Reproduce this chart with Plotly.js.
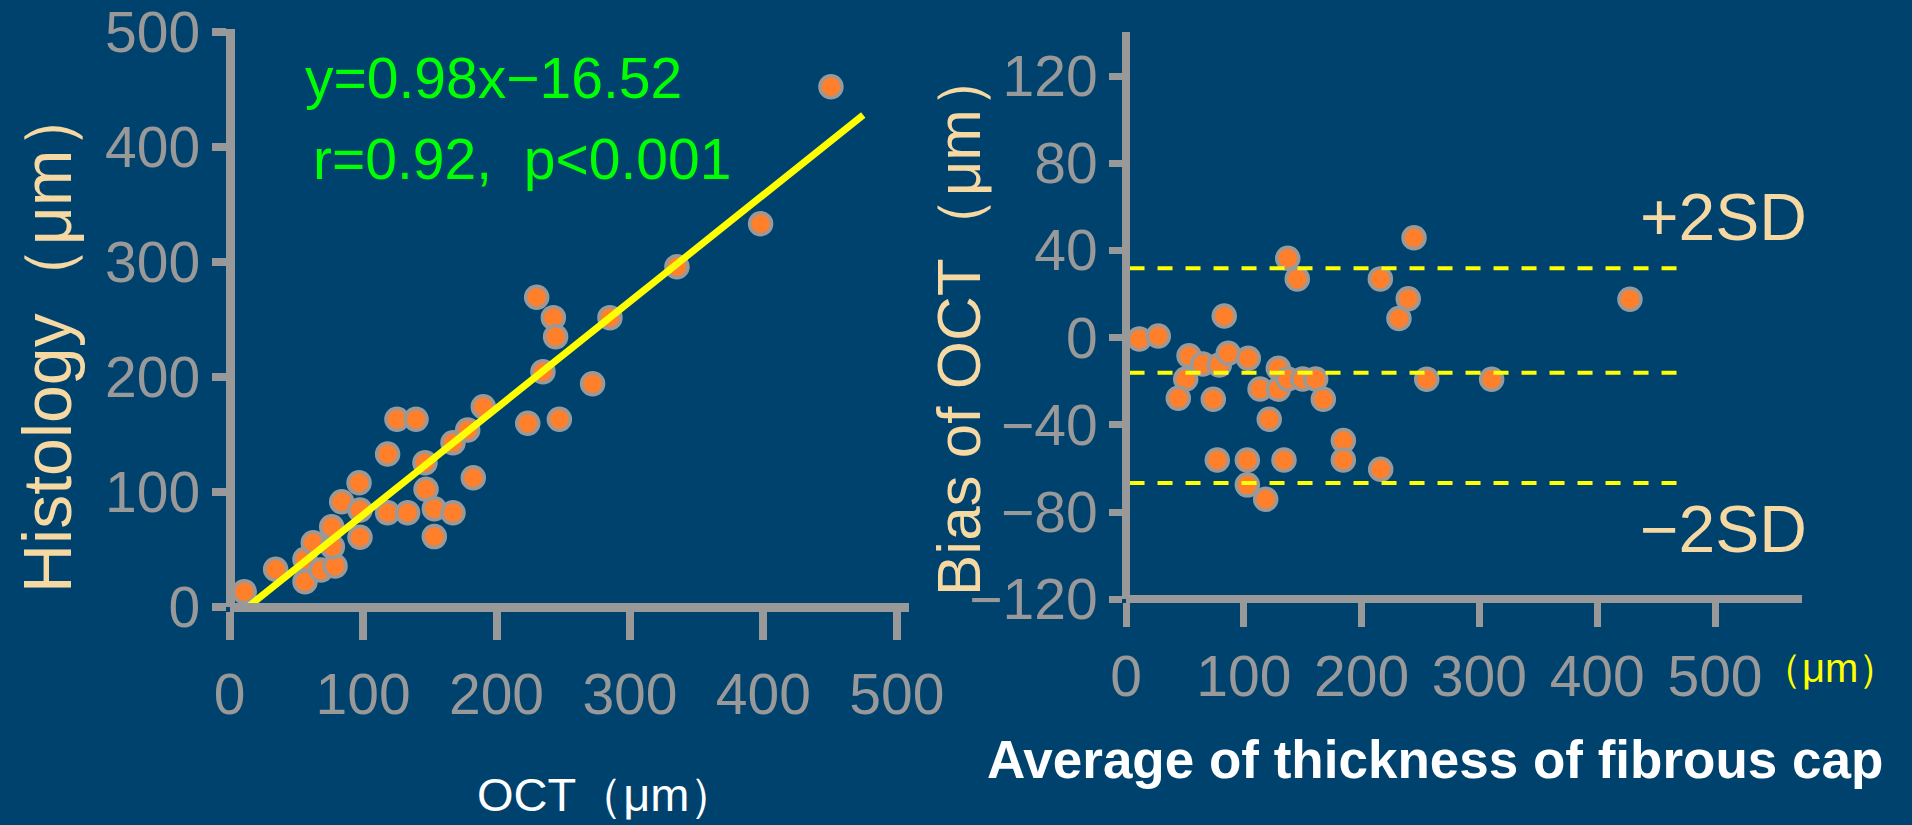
<!DOCTYPE html>
<html>
<head>
<meta charset="utf-8">
<script src="https://cdn.plot.ly/plotly-3.0.1.min.js"></script>
<style>
  html, body { margin: 0; padding: 0; background: #00426e; }
  #chart { width: 1912px; height: 825px; }
</style>
</head>
<body>
<div id="chart"></div>
<script>
// ---- Data ----
// Left panel: OCT vs Histology fibrous-cap thickness (µm)
const octValues = [11, 34.5, 56.5, 56.5, 62.7, 68.5, 79, 77, 76.5, 84, 97, 97.7, 97.7, 118.4, 125.4, 139.7, 118.4, 133.4, 146.4, 147.2, 153.4, 153.4, 167.4, 167.4, 178.4, 190.1, 182.6, 223.4, 247.1, 234.8, 272, 230.1, 242.6, 244.3, 285, 335.2, 397.9, 450.6];
const histologyValues = [13.3, 32.8, 22, 41.5, 55.9, 32.2, 35.7, 52.4, 69.8, 91.6, 108.1, 84.3, 60.6, 133, 163.2, 163.2, 82, 82, 125.5, 102.3, 85.5, 61.2, 82, 142.9, 153.9, 174.2, 112.4, 159.7, 163.2, 204.6, 194.2, 269.3, 251.6, 235, 251.6, 295.9, 333.3, 452.4];
// Regression line end points as drawn
const fitLineX = [14, 474.8];
const fitLineY = [0.3, 427.8];

// Right panel: Bland-Altman (average vs bias of OCT)
const averageValues = [11.3, 27.4, 53.5, 50.7, 44.4, 65.1, 79.2, 86.8, 83.4, 74.1, 103.8, 129.3, 113.8, 129.3, 137.3, 150, 161, 167.5, 121.6, 137.3, 145.4, 215.9, 244.5, 239.6, 231.7, 255.3, 310.4, 427.8, 77.5, 103, 134.1, 184.5, 184.5, 216.2, 103, 118.6];
const biasValues = [-0.6, 0.8, -8.3, -18.9, -27.8, -12, -12.5, -7.1, 10, -28.2, -9.4, -14, -23.5, -23.6, -18.9, -18.9, -18.9, -28.2, -37.4, 36.5, 27, 27, 45.9, 17.9, 8.8, -19, -19, 17.7, -56.1, -56.1, -56.1, -47.2, -56.1, -60.3, -67.5, -74.1];
// Limits of agreement: +2SD, mean, -2SD
const sdLevels = [31.9, -16.1, -66.7];
const sdLineX = [3, 469];

// Tick values
const leftXTicks = [0, 100, 200, 300, 400, 500];
const leftYTicks = [0, 100, 200, 300, 400, 500];
const rightXTicks = [0, 100, 200, 300, 400, 500];
const rightYTicks = [-120, -80, -40, 0, 40, 80, 120];

// Text
const equationText = 'y=0.98x\u221216.52';
const statsText = 'r=0.92,\u00a0\u00a0p&lt;0.001';

// ---- Styling ----
const BG = '#00426e';
const GRAY = '#999999';
const WHEAT = '#f5d8a2';
const ORANGE = '#ff7f2a';
const FONT = 'Liberation Sans, Arial, sans-serif';
const W = 1912, H = 825;
const px = v => v / W;
const py = v => 1 - v / H;

const markerStyle = { color: ORANGE, size: 22, line: { color: GRAY, width: 3.5 } };

const traces = [
  { type: 'scatter', mode: 'markers', x: octValues, y: histologyValues, xaxis: 'x', yaxis: 'y',
    marker: markerStyle, cliponaxis: false, hoverinfo: 'x+y' },
  { type: 'scatter', mode: 'lines', x: fitLineX, y: fitLineY, xaxis: 'x', yaxis: 'y',
    line: { color: '#ffff00', width: 7 }, hoverinfo: 'skip' },
  { type: 'scatter', mode: 'markers', x: averageValues, y: biasValues, xaxis: 'x2', yaxis: 'y2',
    marker: markerStyle, cliponaxis: false, hoverinfo: 'x+y' }
];
sdLevels.forEach(level => {
  traces.push({ type: 'scatter', mode: 'lines', x: sdLineX, y: sdLineX.map(() => level),
    xaxis: 'x2', yaxis: 'y2', line: { color: '#ffff00', width: 4, dash: '15px,13px' }, hoverinfo: 'skip' });
});

const tickFont = { family: FONT, size: 57, color: GRAY };
const axisBase = {
  showgrid: false, zeroline: false, showline: true, linecolor: GRAY,
  ticks: 'outside', tickcolor: GRAY, tickfont: tickFont, fixedrange: true,
  ticklabeloverflow: 'allow'
};

const layout = {
  width: W, height: H,
  margin: { l: 0, r: 0, t: 0, b: 0, pad: 0 },
  paper_bgcolor: BG, plot_bgcolor: BG,
  showlegend: false,
  font: { family: FONT },
  xaxis: Object.assign({}, axisBase, {
    domain: [px(229.6), px(909)], range: [0, 509.1], anchor: 'free', position: py(607),
    tickmode: 'array', tickvals: leftXTicks, linewidth: 9, ticklen: 28, tickwidth: 8,
    ticklabelstandoff: 6
  }),
  yaxis: Object.assign({}, axisBase, {
    domain: [py(607), py(29.3)], range: [0, 502.3], anchor: 'free', position: px(229.6),
    tickmode: 'array', tickvals: leftYTicks, linewidth: 9, ticklen: 14, tickwidth: 8
  }),
  xaxis2: Object.assign({}, axisBase, {
    domain: [px(1126), px(1801.7)], range: [0, 573.6], anchor: 'free', position: py(599.3),
    tickmode: 'array', tickvals: rightXTicks, linewidth: 8, ticklen: 24, tickwidth: 7
  }),
  yaxis2: Object.assign({}, axisBase, {
    domain: [py(599.3), py(31.7)], range: [-120, 140.4], anchor: 'free', position: px(1126),
    tickmode: 'array', tickvals: rightYTicks, linewidth: 8, ticklen: 13, tickwidth: 7
  }),
  annotations: [
    { text: 'Histology\uff08\u03bcm\uff09', textangle: -90, x: px(47), y: py(337),
      xref: 'paper', yref: 'paper', xanchor: 'center', yanchor: 'middle', showarrow: false,
      font: { family: FONT, size: 68, color: WHEAT } },
    { text: 'Bias of OCT\uff08\u03bcm\uff09', textangle: -90, x: px(958), y: py(322),
      xref: 'paper', yref: 'paper', xanchor: 'center', yanchor: 'middle', showarrow: false,
      font: { family: FONT, size: 62, color: WHEAT } },
    { text: 'OCT\uff08\u03bcm\uff09', x: px(606), y: py(794),
      xref: 'paper', yref: 'paper', xanchor: 'center', yanchor: 'middle', showarrow: false,
      font: { family: FONT, size: 47, color: '#ffffff' } },
    { text: '<b>Average of thickness of fibrous cap</b>', x: px(1435), y: py(759),
      xref: 'paper', yref: 'paper', xanchor: 'center', yanchor: 'middle', showarrow: false,
      font: { family: FONT, size: 53, color: '#ffffff' } },
    { text: '\uff08\u03bcm\uff09', x: px(1830), y: py(668),
      xref: 'paper', yref: 'paper', xanchor: 'center', yanchor: 'middle', showarrow: false,
      font: { family: FONT, size: 40, color: '#ffff00' } },
    { text: '+2SD', x: px(1723), y: py(217),
      xref: 'paper', yref: 'paper', xanchor: 'center', yanchor: 'middle', showarrow: false,
      font: { family: FONT, size: 66, color: WHEAT } },
    { text: '\u22122SD', x: px(1723), y: py(529),
      xref: 'paper', yref: 'paper', xanchor: 'center', yanchor: 'middle', showarrow: false,
      font: { family: FONT, size: 66, color: WHEAT } },
    { text: equationText, x: px(493), y: py(78),
      xref: 'paper', yref: 'paper', xanchor: 'center', yanchor: 'middle', showarrow: false,
      font: { family: FONT, size: 57, color: '#00ff00' } },
    { text: statsText, x: px(522), y: py(159),
      xref: 'paper', yref: 'paper', xanchor: 'center', yanchor: 'middle', showarrow: false,
      font: { family: FONT, size: 57, color: '#00ff00' } }
  ]
};

Plotly.newPlot('chart', traces, layout, { displayModeBar: false, staticPlot: true });
</script>
</body>
</html>
